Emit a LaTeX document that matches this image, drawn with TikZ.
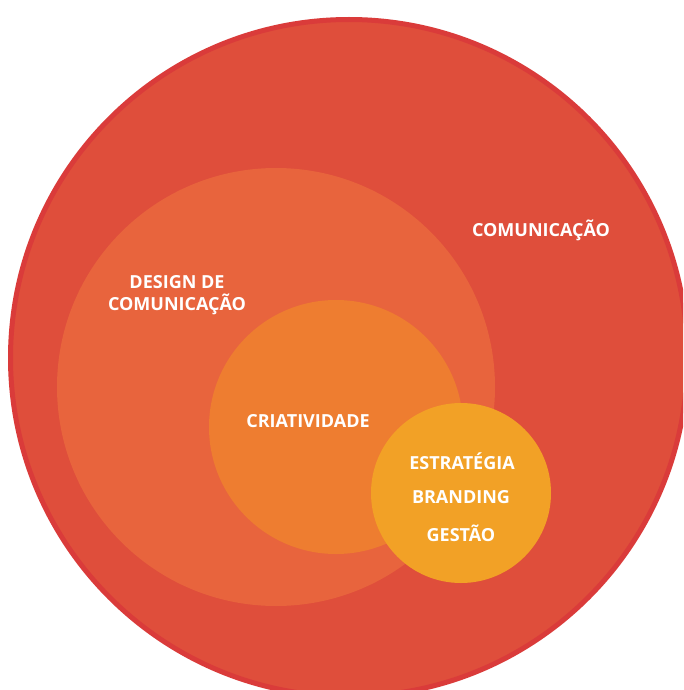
\documentclass[tikz,border=0pt]{standalone}
\usepackage{fontspec}
\setmainfont{Open Sans}
\definecolor{bigfill}{HTML}{DF4E3B}
\definecolor{bigline}{HTML}{DA3B3A}
\definecolor{midfill}{HTML}{E8643D}
\definecolor{crifill}{HTML}{EE7D30}
\definecolor{yelfill}{HTML}{F2A126}
\tikzset{
  lbl/.style={text=white, font=\fontsize{18}{22}\selectfont\bfseries, align=center, inner sep=0pt},
}
\begin{document}
\begin{tikzpicture}[x=1pt,y=-1pt]
\useasboundingbox (0,0) rectangle (683,690);
\clip (0,0) rectangle (683,690);
\fill[white] (0,0) rectangle (683,690);
\draw[bigline, fill=bigfill, line width=5pt] (349,358) circle[radius=338.5pt];
\fill[midfill] (276,387) circle[radius=219pt];
\fill[crifill] (336,427) circle[radius=127pt];
\fill[yelfill] (461,493) circle[radius=90pt];
\node[lbl] (com) at (541,230) {COMUNICAÇÃO};
\node[lbl] (des) at (177,295) {DESIGN DE\\[0pt]COMUNICAÇÃO};
\node[lbl] (cri) at (308,421) {CRIATIVIDADE};
\node[lbl] (est) at (462,461) {ESTRATÉGIA};
\node[lbl] (bra) at (461,497) {BRANDING};
\node[lbl] (ges) at (461,533) {GESTÃO};
\end{tikzpicture}
\end{document}
